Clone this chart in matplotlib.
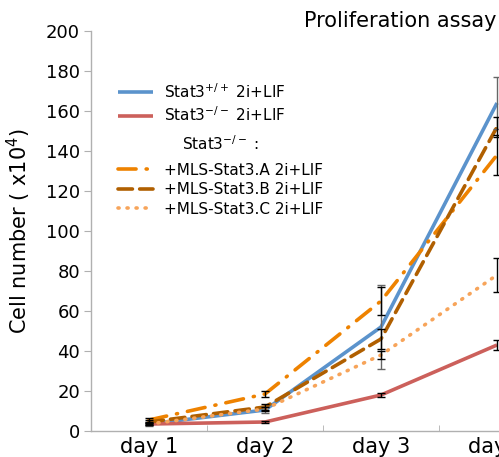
import matplotlib
matplotlib.use("Agg")
import matplotlib.pyplot as plt
import numpy as np

# data (cells x10^4)
days = ["day 1", "day 2", "day 3", "day 4"]
wt = [3.5, 10.5, 52, 164]
wt_err = [0.8, 1.5, 21, 13]
ko = [3.5, 4.5, 18, 43]
ko_err = [0.5, 0.5, 1, 2.5]
mls_a = [5.5, 18.5, 65, 138]
mls_a_err = [1, 1.5, 7, 10]
mls_b = [4.5, 12, 46, 152]
mls_b_err = [1, 1.5, 5, 5]
mls_c = [3.5, 11, 38, 78]
mls_c_err = [0.5, 1, 2, 8.5]

col_wt = "#5b93cc"
col_ko = "#cc605b"
col_a = "#ee8200"
col_b = "#b05f00"
col_c = "#f7a45a"

x = np.arange(1, len(days) + 1)

fig = plt.figure(figsize=(4.99, 4.57), dpi=100)
# axes runs past the right edge like in the reference (day 4 is cut)
ax = fig.add_axes([91 / 499, 26 / 457, 464 / 499, 400 / 457])

def draw(vals, errs, color, ls, lab, ecol="black"):
    ax.errorbar(x, vals, yerr=errs, fmt="none", ecolor=ecol, elinewidth=1,
                capsize=3, capthick=1, zorder=3)
    ln, = ax.plot(x, vals, color=color, lw=2.6, linestyle=ls, label=lab,
                  zorder=2, dash_capstyle="round", solid_capstyle="butt")
    return ln

h_wt = draw(wt, wt_err, col_wt, "-", "Stat3$^{+/+}$ 2i+LIF", ecol="#666666")
h_ko = draw(ko, ko_err, col_ko, "-", "Stat3$^{-/-}$ 2i+LIF")
h_a = draw(mls_a, mls_a_err, col_a, (0, (5, 2.8, 0.3, 2.8)), "+MLS-Stat3.A 2i+LIF")
h_b = draw(mls_b, mls_b_err, col_b, (0, (4, 2)), "+MLS-Stat3.B 2i+LIF")
h_c = draw(mls_c, mls_c_err, col_c, (0, (0.3, 2.2)), "+MLS-Stat3.C 2i+LIF")

ax.set_xlim(0.5, 4.5)
ax.set_ylim(0, 200)
ax.set_yticks(np.arange(0, 201, 20))
ax.set_xticks(x)
ax.set_xticklabels(days)
ax.set_xticks([1.5, 2.5, 3.5], minor=True)
ax.tick_params(axis="x", which="major", length=0, labelsize=15, pad=4)
ax.tick_params(axis="x", which="minor", direction="in", length=4, color="#b0b0b0")
ax.tick_params(axis="y", length=5, color="#b0b0b0", labelsize=13, pad=3)

for s in ["top", "right"]:
    ax.spines[s].set_visible(False)
for s in ["left", "bottom"]:
    ax.spines[s].set_color("#b0b0b0")
    ax.spines[s].set_linewidth(1)

ax.set_ylabel("Cell number ( x10$^4$)", fontsize=15, labelpad=9)

leg1 = fig.legend(handles=[h_wt, h_ko], loc="upper left",
                  bbox_to_anchor=(112 / 499, 1 - 76 / 457), frameon=False,
                  fontsize=11, handlelength=2.3, handletextpad=0.7,
                  labelspacing=0.3, borderaxespad=0)
leg2 = fig.legend(handles=[h_a, h_b, h_c], loc="upper left",
                  bbox_to_anchor=(112 / 499, 1 - 128 / 457), frameon=False,
                  fontsize=11, handlelength=2.3, handletextpad=0.7,
                  labelspacing=0.3, borderaxespad=0,
                  title="Stat3$^{-/-}$ :", title_fontsize=11)
leg2._legend_box.sep = 7

fig.text(497 / 499, 1 - 21 / 457, "Proliferation assay", ha="right",
         va="center", fontsize=15)

fig.savefig("out.png", dpi=100)
